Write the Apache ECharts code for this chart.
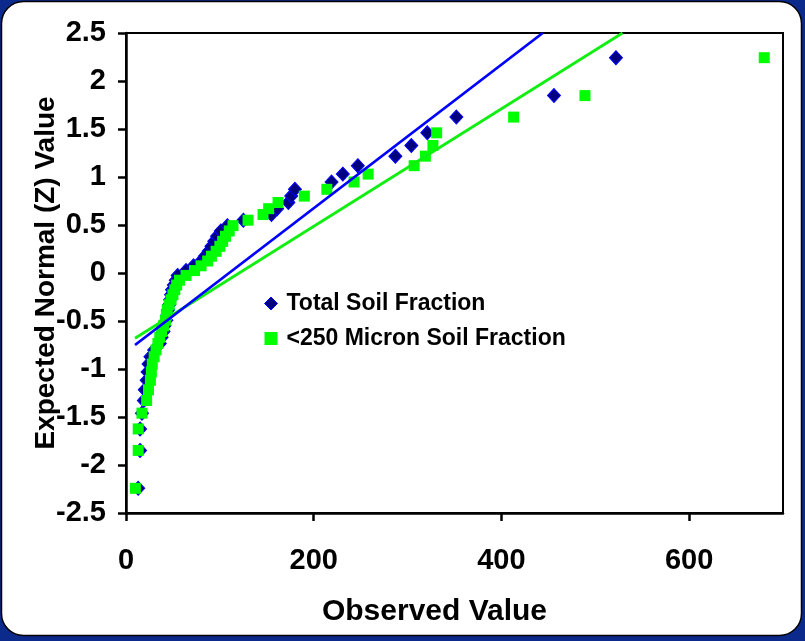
<!DOCTYPE html>
<html>
<head>
<meta charset="utf-8">
<script src="https://cdn.jsdelivr.net/npm/echarts@6/dist/echarts.min.js"></script>
<style>
html,body{margin:0;padding:0;background:#0b2a8c;}
#chart{width:805px;height:641px;}
</style>
</head>
<body>
<div id="chart"></div>
<script>
// Expected normal (Z) scores, shared by both series (sorted)
const zScores = [-2.243,-1.848,-1.624,-1.46,-1.328,-1.217,-1.118,-1.03,-0.948,-0.872,
  -0.801,-0.734,-0.67,-0.609,-0.55,-0.493,-0.438,-0.383,-0.33,-0.278,
  -0.226,-0.175,-0.125,-0.075,-0.025,0.025,0.075,0.125,0.175,0.226,
  0.278,0.33,0.383,0.438,0.493,0.55,0.609,0.67,0.734,0.801,
  0.872,0.948,1.03,1.118,1.217,1.328,1.46,1.624,1.848,2.243];

const totalSoil = [13,15,15,17,19,20,22,23,24,26,
  30,36,38,40,41,43,44,45,46,47,
  48,49,51,53,55,64,72,80,84,88,
  91,94,97,101,108,125,155,161,173,176,
  180,219,231,247,287,304,321,352,456,522];

const micron250 = [10,13,13,17,22,24,26,27,28,30,
  32,34,36,38,40,42,43,44,46,48,
  50,52,54,57,64,73,80,87,91,96,
  100,103,106,110,114,130,146,152,162,190,
  214,243,258,307,319,327,331,413,489,680];

// Fitted lines: [observed, z] end points
const fitTotal = [[9.6,-0.75],[444,2.5]];
const fitMicron = [[9.6,-0.68],[529,2.5]];

const seriesNames = ['Total Soil Fraction','<250 Micron Soil Fraction'];
const xTicks = [0,200,400,600];

const pair = (xs) => xs.map((v,i) => [v, zScores[i]]);

const chart = echarts.init(document.getElementById('chart'), null, {renderer:'canvas'});
const font = '"Liberation Sans", Arial, sans-serif';
chart.setOption({
  animation:false,
  backgroundColor:'#0b2a8c',
  graphic:[{
    type:'rect', z:-10, silent:true,
    shape:{x:1.5,y:1.5,width:800,height:634,r:22},
    style:{fill:'#ffffff',stroke:'#000000',lineWidth:1.5}
  }],
  grid:{left:126,right:22,top:33,bottom:128,show:true,borderColor:'#000',borderWidth:2,backgroundColor:'transparent'},
  legend:{
    orient:'vertical', left:259, top:287, itemGap:12,
    itemWidth:13, itemHeight:13,
    textStyle:{fontFamily:font,fontWeight:'bold',fontSize:23,color:'#000',padding:[0,0,0,4]},
    data:[
      {name:seriesNames[0], icon:'diamond', itemStyle:{color:'#000080',borderColor:'#0000ff',borderWidth:1}},
      {name:seriesNames[1], icon:'rect', itemStyle:{color:'#00ff00'}}
    ]
  },
  xAxis:{
    type:'value', min:0, max:700, interval:200,
    name:'Observed Value', nameLocation:'middle', nameGap:84, nameMoveOverlap:false,
    nameTextStyle:{fontFamily:font,fontWeight:'bold',fontSize:30,color:'#000',padding:[0,40,0,0]},
    axisLine:{onZero:false,lineStyle:{color:'#000',width:2.5}},
    axisTick:{show:true,length:8,lineStyle:{color:'#000',width:2.5},customValues:xTicks},
    axisLabel:{fontFamily:font,fontWeight:'bold',fontSize:29,color:'#000',margin:33,customValues:xTicks},
    splitLine:{show:false}
  },
  yAxis:{
    type:'value', min:-2.5, max:2.5, interval:0.5,
    name:'Expected Normal (Z) Value', nameLocation:'middle', nameGap:66, nameRotate:90, nameMoveOverlap:false,
    nameTextStyle:{fontFamily:font,fontWeight:'bold',fontSize:28,color:'#000'},
    axisLine:{onZero:false,lineStyle:{color:'#000',width:2.5}},
    axisTick:{show:true,length:8,lineStyle:{color:'#000',width:2.5}},
    axisLabel:{fontFamily:font,fontWeight:'bold',fontSize:29,color:'#000',margin:20},
    splitLine:{show:false}
  },
  series:[
    {name:seriesNames[0], type:'scatter', symbol:'diamond', symbolSize:[13,14],
     itemStyle:{color:'#000080',borderColor:'#0000ff',borderWidth:1,opacity:1},
     data:pair(totalSoil)},
    {name:seriesNames[1], type:'scatter', symbol:'rect', symbolSize:11,
     itemStyle:{color:'#00ff00',opacity:1},
     data:pair(micron250)},
    {name:'fitMicron', type:'line', data:fitMicron, symbol:'none',
     lineStyle:{color:'#11ee11',width:2.8}, clip:true},
    {name:'fitTotal', type:'line', data:fitTotal, symbol:'none',
     lineStyle:{color:'#0000ff',width:2.8}, clip:true}
  ]
});
</script>
</body>
</html>
